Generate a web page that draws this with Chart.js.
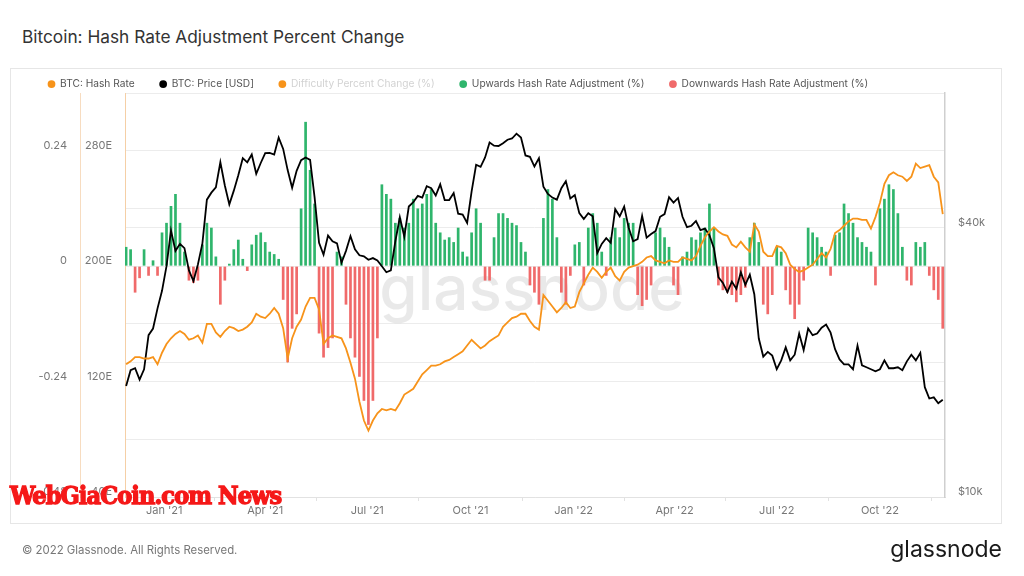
<!DOCTYPE html>
<html>
<head>
<meta charset="utf-8">
<script src="https://cdn.jsdelivr.net/npm/chart.js@4.4.0/dist/chart.umd.min.js"></script>
<style>
  body { margin: 0; background: #fff; font-family: Inter, sans-serif; }
  #page { position: relative; width: 1024px; height: 576px; overflow: hidden; }
  .title { position: absolute; left: 22px; top: 27px; font-size: 17.3px; line-height: 20px; color: #333; }
  .card { position: absolute; left: 10px; top: 68px; width: 990px; height: 454px; border: 1px solid #e6e6e6; }
  #chart { position: absolute; left: 0; top: 0; }
  .copy { position: absolute; left: 22px; top: 543px; font-size: 11.4px; line-height: 14px; color: #777; }
  .logo { position: absolute; right: 22px; top: 535px; font-size: 23px; line-height: 28px; color: #1a1a1a; }
  .stamp { position: absolute; left: 10px; top: 481px; font-family: "DejaVu Serif Condensed", "DejaVu Serif", serif; font-weight: bold;
           font-size: 25px; line-height: 30px; letter-spacing: -0.9px; color: #f51818;
           -webkit-text-stroke: 1.3px #f51818; text-shadow: 0 0 2px #fff; }
</style>
</head>
<body>
<div id="page">
  <div class="title">Bitcoin: Hash Rate Adjustment Percent Change</div>
  <div class="card"></div>
  <canvas id="chart" width="1024" height="576"></canvas>
  <div class="copy">© 2022 Glassnode. All Rights Reserved.</div>
  <div class="logo">glassnode</div>
  <div class="stamp">WebGiaCoin.com News</div>
</div>
<script>
// samples every 4 days starting at startDate
const startDate = '2020-11-28';
const stepDays = 4;

// BTC: Hash Rate (EH/s)
const hashRate = [
  132,134,137,137,136,136,137,132,140,146,
  150,153,155,153,149,150,152,147,160,160,
  154,151,155,158,157,155,156,158,161,167,
  165,164,167,171,167,157,136,150,158,163,
  172,178,178,170,146,150,152,151,150,143,
  133,122,106,93,86,93,98,101,100,101,
  100,105,111,113,115,120,125,128,131,131,
  132,134,135,137,139,141,145,149,146,143,
  145,148,150,152,158,161,164,165,167,167,
  162,158,156,180,176,172,168,171,175,171,
  172,182,188,194,199,196,192,196,199,193,
  190,196,199,200,201,203,206,207,204,203,
  202,204,203,203,206,205,204,207,214,220,
  224,227,224,222,221,215,213,217,213,210,
  229,224,210,207,207,214,213,209,201,198,
  196,197,199,201,205,209,206,212,223,225,
  228,231,233,233,232,232,226,234,244,257,
  263,265,263,262,259,262,271,268,269,270,
  262,258,236
];

// BTC: Price [USD]
const priceUsd = [
  17700,19200,19400,18300,19300,23000,23800,26400,28900,32800,
  39400,35500,36800,36000,32100,30400,33100,36900,46200,47900,
  49200,56000,49700,45100,48400,52400,57200,56000,58300,52800,
  55800,58700,58800,58300,63600,60000,53800,49100,53600,56600,
  57400,56700,46800,37000,34800,38400,37300,36900,33400,35500,
  38300,35800,34700,34500,33900,34200,33800,32800,31800,32100,
  37300,42200,38200,44600,45600,47100,46700,49500,49000,47200,
  50000,46100,46100,47800,43000,42800,41000,48200,55300,54700,
  57400,62000,61000,60900,61800,62900,63300,64900,63600,58000,
  57600,54800,57200,49400,47600,46700,46200,49000,50800,46500,
  47300,43100,41800,43100,42400,35100,36800,37900,37000,44000,
  42400,44600,40000,37300,37700,42500,38000,38700,39300,42300,
  42900,46800,45500,46600,42300,40100,40400,41400,39500,39800,
  38500,36000,31000,30100,28700,30300,29200,31800,29800,31400,
  28400,22600,20600,21100,20700,19300,20200,21600,20200,20800,
  23200,21300,23800,23000,23200,23900,24300,23300,21400,20300,
  19800,19800,19300,21800,19700,19500,19300,19100,19300,20200,
  19400,19400,19500,19200,20100,20800,20200,21000,17600,16600,
  16700,16200,16500
];

// hash rate adjustment (%) : positive = upwards, negative = downwards
const adjustment = [
  0.04,0.035,-0.055,-0.025,0.035,-0.02,0.012,-0.02,0.07,0.09,
  0.125,0.15,0.09,0.03,-0.03,-0.035,-0.03,0.045,0.09,0.08,
  0.02,-0.08,-0.03,0.005,0.035,0.055,0.015,-0.01,0.045,0.065,
  0.07,0.05,0.03,0.025,0.015,-0.07,-0.2,-0.13,-0.1,0.12,
  0.3,0.2,0.13,-0.14,-0.19,-0.17,-0.15,0.03,0.02,-0.08,
  -0.15,-0.19,-0.23,-0.28,-0.33,-0.28,-0.15,0.17,0.15,0.14,
  0.09,0.1,0.08,0.09,0.14,0.12,0.13,0.15,0.16,0.09,
  0.07,0.055,0.06,0.05,0.08,0.03,0.02,0.07,0.12,0.09,
  -0.03,-0.03,0.06,0.11,0.11,0.1,0.09,0.085,0.05,0.03,
  -0.04,-0.055,-0.08,0.1,0.16,0.14,0.06,-0.055,-0.08,-0.02,
  0.045,0.05,-0.04,0.08,0.11,0.09,0.03,-0.02,0.06,0.08,
  0.06,0.1,0.09,0.09,-0.06,-0.083,-0.07,-0.04,0.07,0.08,
  0.06,0.04,-0.04,-0.06,0.02,0.03,0.06,0.055,0.07,0.08,
  0.13,0.08,-0.04,-0.05,-0.055,-0.06,-0.075,-0.06,-0.045,0.06,
  0.09,0.05,-0.08,-0.1,-0.06,0.04,0.03,-0.05,-0.08,-0.11,
  -0.08,-0.03,0.08,0.07,0.06,0.04,0.03,-0.02,0.065,0.07,
  0.13,0.11,0.09,0.06,0.05,0.04,0.03,-0.04,0.12,0.14,
  0.17,0.16,0.11,0.04,-0.03,-0.04,0.05,0.04,0.05,-0.02,
  -0.05,-0.07,-0.13
];

// axis ticks
const xRange = ['2020-11-27', '2022-11-28'];
const xTickDates = ['2021-01-01','2021-04-01','2021-07-01','2021-10-01','2022-01-01','2022-04-01','2022-07-01','2022-10-01'];
const xTickLabels = ["Jan '21","Apr '21","Jul '21","Oct '21","Jan '22","Apr '22","Jul '22","Oct '22"];
const pctTicks = [-0.48,-0.36,-0.24,-0.12,0,0.12,0.24,0.36];
const pctLabels = ['-0.48','','-0.24','','0','','0.24',''];
const hashTicks = [40,120,200,280];
const hashLabels = ['40E','120E','200E','280E'];
const priceTicks = [10000,20000,40000,80000];
const priceLabels = ['$10k','','$40k',''];

const dayOf = s => (Date.parse(s + 'T00:00:00Z') - Date.parse('2021-01-01T00:00:00Z')) / 864e5;
const firstDay = dayOf(startDate);
const days = hashRate.map((_, i) => firstDay + i * stepDays);
const pts = arr => arr.map((v, i) => ({ x: days[i], y: v }));
const upPts = adjustment.map((v, i) => ({ x: days[i], y: v > 0 ? v : null }));
const downPts = adjustment.map((v, i) => ({ x: days[i], y: v < 0 ? v : null }));

const tickFont = { family: 'Inter', size: 11 };
const setTicks = vals => scale => { scale.ticks = vals.map(v => ({ value: v })); };

const legendHeightFix = {
  id: 'legendHeightFix',
  beforeInit(chart) {
    const fit = chart.legend.fit;
    chart.legend.fit = function () { fit.call(this); this.height = 39; };
  }
};

const watermark = {
  id: 'watermark',
  beforeDatasetsDraw(chart) {
    const { ctx, chartArea: a } = chart;
    ctx.save();
    ctx.font = '500 62px Inter';
    ctx.fillStyle = 'rgba(0,0,0,0.085)';
    ctx.textAlign = 'center';
    ctx.textBaseline = 'middle';
    ctx.fillText('glassnode', (a.left + a.right) / 2 - 3, (a.top + a.bottom) / 2 - 4);
    ctx.restore();
  }
};

new Chart(document.getElementById('chart'), {
  type: 'line',
  data: {
    datasets: [
      { label: 'BTC: Hash Rate', data: pts(hashRate), yAxisID: 'hash',
        borderColor: '#f7931a', backgroundColor: '#f7931a', borderWidth: 1.8, pointRadius: 0, tension: 0 },
      { label: 'BTC: Price [USD]', data: pts(priceUsd), yAxisID: 'price',
        borderColor: '#000000', backgroundColor: '#000000', borderWidth: 1.8, pointRadius: 0, tension: 0 },
      { label: 'Difficulty Percent Change (%)', data: [], yAxisID: 'pct', hidden: true,
        borderColor: '#f7931a', backgroundColor: '#f7931a', pointRadius: 0 },
      { type: 'bar', label: 'Upwards Hash Rate Adjustment (%)', data: upPts, yAxisID: 'pct',
        backgroundColor: '#2fb56c', grouped: false, barPercentage: 0.6, categoryPercentage: 1 },
      { type: 'bar', label: 'Downwards Hash Rate Adjustment (%)', data: downPts, yAxisID: 'pct',
        backgroundColor: '#f06a6a', grouped: false, barPercentage: 0.6, categoryPercentage: 1 }
    ]
  },
  options: {
    responsive: false,
    animation: false,
    layout: { padding: { left: 23, right: 0, top: 54, bottom: 52 } },
    plugins: {
      tooltip: { enabled: false },
      legend: {
        position: 'top',
        align: 'start',
        labels: {
          usePointStyle: true, pointStyle: 'circle', boxWidth: 7, boxHeight: 5.5,
          padding: 25, color: '#555', font: { family: 'Inter', size: 10.2 },
          generateLabels(chart) {
            const items = Chart.defaults.plugins.legend.labels.generateLabels(chart);
            items.forEach(it => {
              it.lineWidth = 0;
              if (it.hidden) { it.hidden = false; it.fontColor = '#d2d2d2'; }
            });
            return items;
          }
        }
      }
    },
    scales: {
      x: {
        type: 'linear', offset: false,
        min: dayOf(xRange[0]), max: dayOf(xRange[1]),
        afterBuildTicks: setTicks(xTickDates.map(dayOf)),
        afterFit(s) { s.height = 27; },
        grid: { drawOnChartArea: false, drawTicks: true, tickLength: 4, color: '#e2e2e2' },
        border: { color: '#e2e2e2' },
        ticks: { autoSkip: false, maxRotation: 0, padding: 3, color: '#777', font: tickFont,
                 callback: (v, i) => xTickLabels[i] }
      },
      pct: {
        type: 'linear', position: 'left', weight: 2,
        min: -0.48, max: 0.36,
        afterBuildTicks: setTicks(pctTicks),
        afterFit(s) { s.width = 57; },
        grid: { color: '#ececec', drawTicks: false },
        border: { color: '#f7dcc0' },
        ticks: { padding: 13, labelOffset: -5, color: '#777', font: tickFont,
                 callback: (v, i) => pctLabels[i] }
      },
      hash: {
        type: 'linear', position: 'left', weight: 1,
        min: 40, max: 320,
        afterBuildTicks: setTicks(hashTicks),
        afterFit(s) { s.width = 45; },
        grid: { drawOnChartArea: false, drawTicks: false },
        border: { color: '#f5cfa6' },
        ticks: { padding: 13, labelOffset: -5, color: '#777', font: tickFont,
                 callback: (v, i) => hashLabels[i] }
      },
      price: {
        type: 'logarithmic', position: 'right',
        min: 10000, max: 80000,
        afterBuildTicks: setTicks(priceTicks),
        afterFit(s) { s.width = 79; },
        grid: { color: '#ececec', drawTicks: false },
        border: { color: '#cfcfcf', width: 1.5 },
        ticks: { padding: 13, labelOffset: -5, color: '#777', font: tickFont,
                 callback: (v, i) => priceLabels[i] }
      }
    }
  },
  plugins: [legendHeightFix, watermark]
});
</script>
</body>
</html>
